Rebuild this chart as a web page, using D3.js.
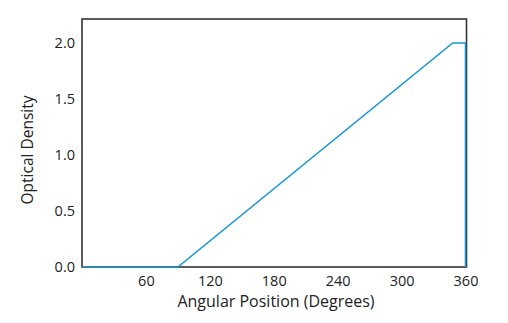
<!DOCTYPE html>
<html><head><meta charset="utf-8">
<script src="https://cdn.jsdelivr.net/npm/d3@7"></script>
<style>body{margin:0;background:#fff;} text{font-family:"Open Sans","Noto Sans",sans-serif;fill:#222;}</style>
</head><body>
<svg id="c" width="508" height="323"></svg>
<script>
const angles = [0, 90, 348, 360, 360];
const density = [0, 0, 2.0, 2.0, 0];
const xTicks = [60, 120, 180, 240, 300, 360];
const yTicks = [0, 0.5, 1.0, 1.5, 2.0];

const svg = d3.select("#c");
const m = {l: 82, r: 42, t: 19, b: 56};
const W = 508, H = 323;
const x = d3.scaleLinear().domain([0, 360]).range([m.l, W - m.r - 0.5]);
const y = d3.scaleLinear().domain([0, 2.214]).range([H - m.b, m.t]);

const xa = svg.append("g").attr("transform", `translate(0,${H - m.b})`)
  .call(d3.axisBottom(x).tickValues(xTicks).tickSize(0).tickPadding(9).tickFormat(d3.format("d")));
xa.select(".domain").remove();
xa.selectAll("text").style("font-size", "14.5px").attr("fill", "#222");

const ya = svg.append("g").attr("transform", `translate(${m.l},0)`)
  .call(d3.axisLeft(y).tickValues(yTicks).tickSize(0).tickPadding(7).tickFormat(d3.format(".1f")));
ya.select(".domain").remove();
ya.selectAll("text").style("font-size", "14.5px").attr("fill", "#222");

svg.append("rect").attr("x", m.l).attr("y", m.t)
  .attr("width", W - m.r - m.l + 0.5).attr("height", H - m.b - m.t)
  .attr("fill", "none").attr("stroke", "#333").attr("stroke-width", 1.6);

svg.append("path")
  .datum(angles.map((a, i) => [a, density[i]]))
  .attr("fill", "none").attr("stroke", "#1a98d5").attr("stroke-width", 1.6)
  .attr("d", d3.line().x(d => x(d[0])).y(d => y(d[1])));

svg.append("text").attr("x", 276).attr("y", 307).attr("text-anchor", "middle")
  .style("font-size", "16px").text("Angular Position (Degrees)");
svg.append("text").attr("transform", "translate(33,150) rotate(-90)").attr("text-anchor", "middle")
  .style("font-size", "15.5px").text("Optical Density");
</script>
</body></html>
